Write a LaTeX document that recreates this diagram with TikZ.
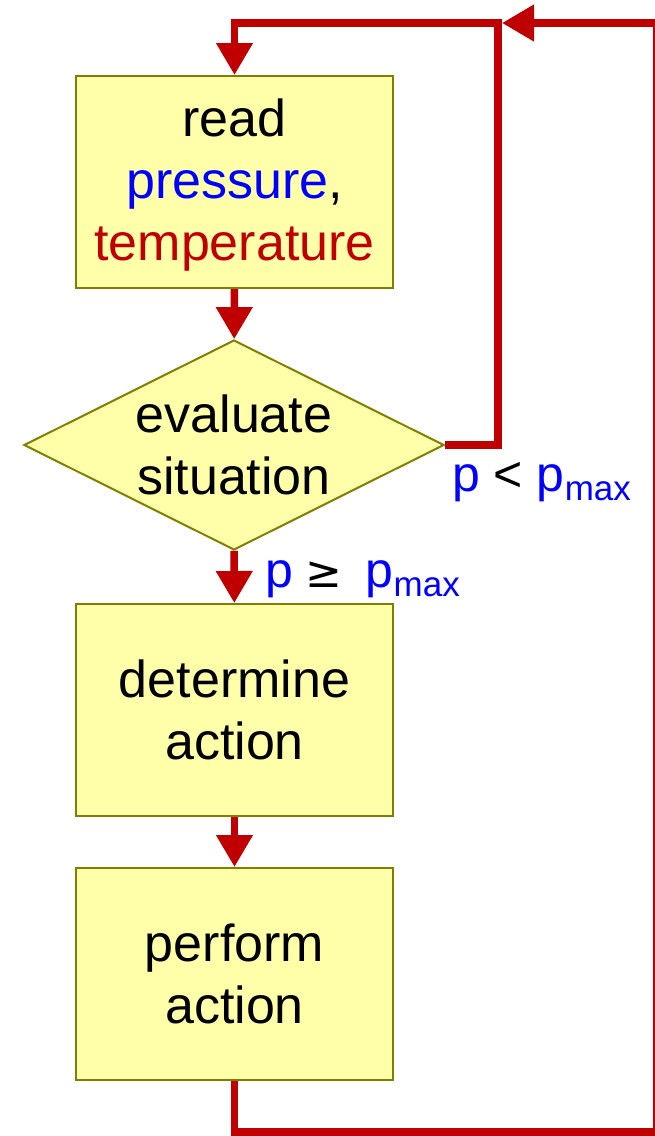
\documentclass[tikz,border=0pt]{standalone}
\usepackage{fontspec}
\setmainfont{Liberation Sans}
\usetikzlibrary{shapes.geometric,arrows.meta}
\definecolor{dred}{HTML}{C00000}
\definecolor{fillY}{HTML}{FFFFAA}
\definecolor{oliveB}{HTML}{808000}
\definecolor{blueT}{HTML}{0000FF}
\newcommand{\subm}{\raisebox{-9pt}{\fontsize{35}{35}\selectfont max}}
\begin{document}
\begin{tikzpicture}[x=1pt,y=-1pt,
  box/.style={draw=oliveB,fill=fillY,line width=2pt,minimum width=317pt,minimum height=212pt,inner sep=0pt,font=\fontsize{52}{62}\selectfont,align=center},
  flow/.style={dred,line width=7.5pt},
  thin/.style={dred,line width=2pt},
  tipA/.style={-{Triangle[length=32pt,width=35pt]}},
  lbl/.style={font=\fontsize{50}{60}\selectfont,inner sep=0pt,anchor=base west}]
\useasboundingbox (0,0) rectangle (655,1136);
\node[box] (read) at (234.5,182) {};
\node[font=\fontsize{52}{62}\selectfont,align=center] (readt) at (234.5,185) {read\\\textcolor{blueT}{pressure},\\\textcolor{dred}{temperature}};
\node[diamond,draw=oliveB,fill=fillY,line width=2pt,minimum width=420pt,minimum height=210pt,inner sep=0pt,
  label={[font=\fontsize{52}{62}\selectfont,align=center]center:evaluate\\situation}] (eval) at (234,445) {};
\node[box] (det) at (234.5,710) {determine\\action};
\node[box] (perf) at (234.5,974) {perform\\action};
\coordinate (tl) at (234.5,23);
\coordinate (tr) at (498,23);
\coordinate (mr) at (498,445);
\coordinate (tj) at (502,23);
\coordinate (ftr) at (654,23);
\coordinate (fbr) at (654,1132);
\coordinate (fbl) at (234.5,1132);
\draw[flow,tipA] (read) -- (eval);
\draw[flow,tipA] (eval) -- (det);
\draw[flow,tipA] (det) -- (perf);
\draw[flow,tipA] (eval.east) -- (mr) -- (tr) -- (tl) -- (read.north);
\draw[flow] (perf.south) -- (fbl) -- ([xshift=1pt]fbr);
\draw[thin] (fbr) -- (ftr);
\draw[flow,tipA] ([xshift=1pt]ftr) -- (tj);
\node[lbl] (lt) at (452,491) {\textcolor{blueT}{p} < \textcolor{blueT}{p\subm}};
\node[lbl] (ge) at (265,587) {\textcolor{blueT}{p}\hspace{12pt}{\fontspec{DejaVu Sans}\fontsize{44}{50}\selectfont ≥}\hspace{24pt}\textcolor{blueT}{p\subm}};
\end{tikzpicture}
\end{document}
